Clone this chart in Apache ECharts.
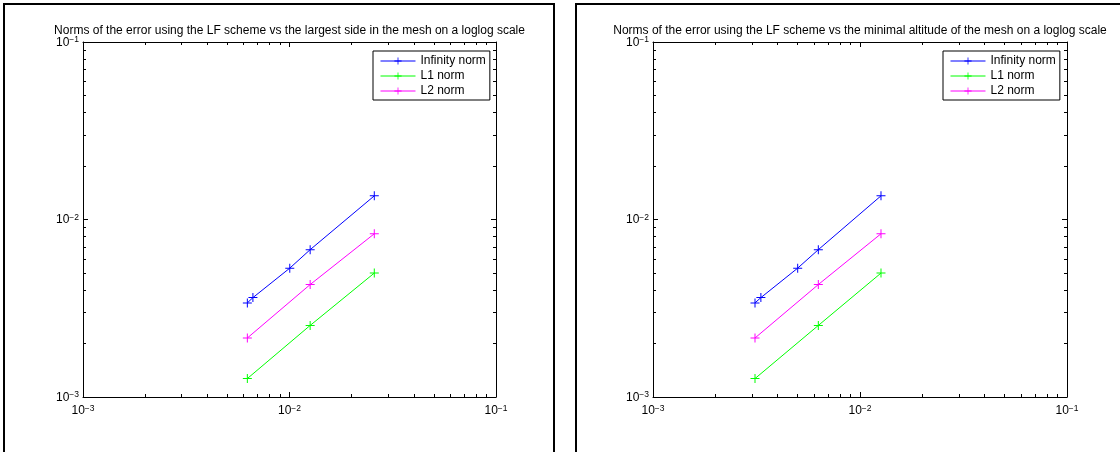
<!DOCTYPE html>
<html>
<head>
<meta charset="utf-8">
<script src="https://cdn.jsdelivr.net/npm/echarts@6/dist/echarts.min.js"></script>
<style>
html,body{margin:0;padding:0;background:#fff;}
#c{width:1120px;height:452px;}
</style>
</head>
<body>
<div id="c"></div>
<script>
// ---- data ----
const panelTitles = [
  'Norms of the error using the LF scheme vs the largest side in the mesh on a loglog scale',
  'Norms of the error using the LF scheme vs the minimal altitude of the mesh on a loglog scale'
];
const seriesNames = ['Infinity norm', 'L1 norm', 'L2 norm'];
const hLargestSide = [0.00625, 0.00665, 0.01003, 0.01259, 0.02574];
const hMinAltitude = [0.00311, 0.00332, 0.00500, 0.00629, 0.01263];
const infNorm = [0.00339, 0.00363, 0.00532, 0.00676, 0.01359];
const l1Norm  = [0.00127, null, null, 0.00253, 0.00499];
const l2Norm  = [0.00215, null, null, 0.00430, 0.00831];
const majorTicks = [0.001, 0.01, 0.1];
const majorTickExps = ['\u22123', '\u22122', '\u22121'];
const minorTicks = [0.002, 0.003, 0.004, 0.005, 0.006, 0.007, 0.008, 0.009,
                    0.02, 0.03, 0.04, 0.05, 0.06, 0.07, 0.08, 0.09];

// ---- styling / layout ----
const FONT = '"Liberation Sans", Arial, Helvetica, sans-serif';
const colors = ['#0000ff', '#00ff00', '#ff00ff'];
const grids = [
  { left: 83, top: 42, width: 413, height: 355 },
  { left: 653, top: 42, width: 414, height: 355 }
];
const PLUS = 'path://M4,0H5V4H9V5H5V9H4V5H0V4H4Z';

function expLabel(v) {
  let idx = -1;
  for (let i = 0; i < majorTicks.length; i++) {
    if (Math.abs(Math.log10(v) - Math.log10(majorTicks[i])) < 1e-6) idx = i;
  }
  if (idx < 0) return '';
  return '{b|10}{s|' + majorTickExps[idx] + '}';
}
const rich = {
  b: { fontSize: 12, lineHeight: 13, verticalAlign: 'bottom', color: '#000', fontFamily: FONT },
  s: { fontSize: 8.5, lineHeight: 10, padding: [0, 0, 6, 0], verticalAlign: 'top', color: '#000', fontFamily: FONT }
};

function makeAxes(dim, g) {
  const positions = dim === 'x' ? ['bottom', 'top'] : ['left', 'right'];
  const axes = [];
  positions.forEach((pos, pi) => {
    axes.push({
      gridIndex: g, type: 'log', logBase: 10, min: 0.001, max: 0.1, position: pos,
      axisLine: { show: true, onZero: false, lineStyle: { color: '#000', width: 1 } },
      axisTick: { show: true, inside: true, length: 5, customValues: majorTicks,
                  lineStyle: { color: '#000', width: 1 } },
      axisLabel: pi === 0 ? {
        show: true, customValues: majorTicks, margin: dim === 'x' ? 7 : 4,
        formatter: expLabel, rich: rich, color: '#000', fontFamily: FONT
      } : { show: false },
      splitLine: { show: false }, minorTick: { show: false }
    });
    axes.push({
      gridIndex: g, type: 'log', logBase: 10, min: 0.001, max: 0.1, position: pos,
      axisLine: { show: false },
      axisTick: { show: true, inside: true, length: 3, customValues: minorTicks,
                  lineStyle: { color: '#000', width: 1 } },
      axisLabel: { show: false },
      splitLine: { show: false }
    });
  });
  return axes;
}

const xAxes = [], yAxes = [];
grids.forEach((gr, g) => {
  xAxes.push(...makeAxes('x', g));
  yAxes.push(...makeAxes('y', g));
});

function pairs(xs, ys) {
  const out = [];
  for (let i = 0; i < xs.length; i++) if (ys[i] != null) out.push([xs[i], ys[i]]);
  return out;
}

const xData = [hLargestSide, hMinAltitude];
const yData = [infNorm, l1Norm, l2Norm];
const series = [];
grids.forEach((gr, g) => {
  yData.forEach((ys, k) => {
    series.push({
      name: seriesNames[k], type: 'line',
      xAxisIndex: g * 4, yAxisIndex: g * 4,
      data: pairs(xData[g], ys),
      symbol: PLUS, symbolSize: 9, showSymbol: true,
      lineStyle: { color: colors[k], width: 1 },
      itemStyle: { color: colors[k] },
      emphasis: { disabled: true },
      silent: true, animation: false
    });
  });
});

const titles = grids.map((gr, g) => ({
  text: panelTitles[g],
  left: gr.left + gr.width / 2, top: 25, textAlign: 'center', padding: 0,
  textStyle: { fontSize: 12, fontWeight: 'normal', color: '#000', fontFamily: FONT }
}));

const legends = grids.map((gr, g) => ({
  data: seriesNames, orient: 'vertical',
  left: gr.left + 290, top: 51,
  padding: [4, 4, 3, 7], itemWidth: 35, itemHeight: 9, itemGap: 3,
  borderColor: '#000', borderWidth: 1, backgroundColor: '#fff',
  selectedMode: false,
  lineStyle: { width: 1 },
  textStyle: { fontSize: 12, lineHeight: 12, color: '#000', fontFamily: FONT, padding: 0 }
}));

const option = {
  backgroundColor: '#fff',
  animation: false,
  title: titles,
  legend: legends,
  grid: grids,
  xAxis: xAxes,
  yAxis: yAxes,
  series: series,
  graphic: [
    { type: 'rect', shape: { x: 4, y: 4, width: 550, height: 470 },
      style: { fill: 'none', stroke: '#000', lineWidth: 2 }, silent: true },
    { type: 'rect', shape: { x: 576, y: 4, width: 560, height: 470 },
      style: { fill: 'none', stroke: '#000', lineWidth: 2 }, silent: true }
  ]
};

const chart = echarts.init(document.getElementById('c'), null, { renderer: 'canvas' });
chart.setOption(option);
</script>
</body>
</html>
